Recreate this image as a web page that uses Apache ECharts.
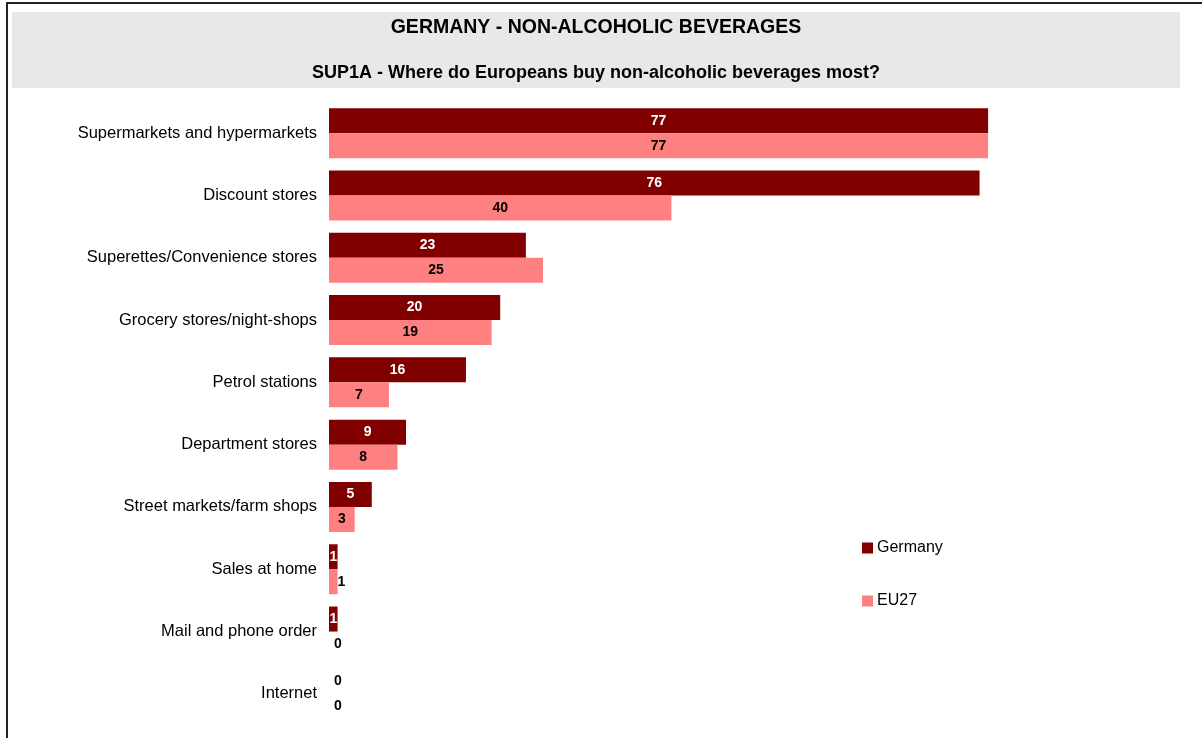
<!DOCTYPE html>
<html><head><meta charset="utf-8">
<script src="https://cdn.jsdelivr.net/npm/echarts@6/dist/echarts.min.js"></script>
<style>html,body{margin:0;padding:0;background:#fff}#c{width:1202px;height:738px}</style>
</head><body><div id="c"></div>
<script>
const categories = ["Supermarkets and hypermarkets","Discount stores","Superettes/Convenience stores","Grocery stores/night-shops","Petrol stations","Department stores","Street markets/farm shops","Sales at home","Mail and phone order","Internet"];
const germany = [77,76,23,20,16,9,5,1,1,0];
const eu27 = [77,40,25,19,7,8,3,1,0,0];
const titleText = "GERMANY - NON-ALCOHOLIC BEVERAGES";
const subtitleText = "SUP1A - Where do Europeans buy non-alcoholic beverages most?";

const font = "Arial, 'Liberation Sans', sans-serif";
function mk(vals, isEU){
  return vals.map(v => {
    const d = {value: v};
    if (v === 0 || (isEU && v <= 1)) {
      d.label = {position: 'right', distance: v === 0 ? 5 : 0, color: '#000'};
    }
    return d;
  });
}
const chart = echarts.init(document.getElementById('c'));
chart.setOption({
  animation: false,
  textStyle: {fontFamily: font},
  graphic: [
    {type:'rect', shape:{x:12,y:12,width:1168,height:76}, style:{fill:'#e8e8e8'}, z:-1},
    {type:'line', shape:{x1:6,y1:3,x2:1202,y2:3}, style:{stroke:'#222',lineWidth:2}},
    {type:'line', shape:{x1:7,y1:2,x2:7,y2:738}, style:{stroke:'#222',lineWidth:2}},
    {type:'text', x:596, y:28, style:{text:titleText, font:"bold 19.5px "+font, fill:'#000', align:'center', verticalAlign:'middle'}},
    {type:'text', x:596, y:73, style:{text:subtitleText, font:"bold 18px "+font, fill:'#000', align:'center', verticalAlign:'middle'}}
  ],
  legend: {
    orient:'vertical', left:857, top:535, itemWidth:11, itemHeight:11, itemGap:37,
    icon:'rect', textStyle:{fontSize:16, color:'#000', fontFamily:font, padding:[0,0,0,-1]},
    data:['Germany','EU27']
  },
  grid: {left:329, right:17, top:102, bottom:13, containLabel:false},
  xAxis: {type:'value', min:0, max:100, show:false},
  yAxis: {
    type:'category', data:categories, inverse:true,
    axisLine:{show:false}, axisTick:{show:false},
    axisLabel:{fontSize:16.5, color:'#000', margin:12, fontFamily:font}
  },
  series: [
    {name:'Germany', type:'bar', data: mk(germany,false), barWidth:25, barGap:'0%',
     itemStyle:{color:'#800000'},
     label:{show:true, position:'inside', color:'#fff', fontWeight:'bold', fontSize:14, fontFamily:font}},
    {name:'EU27', type:'bar', data: mk(eu27,true), barWidth:25, barGap:'0%',
     itemStyle:{color:'#ff8080'},
     label:{show:true, position:'inside', color:'#000', fontWeight:'bold', fontSize:14, fontFamily:font}}
  ]
});
</script></body></html>
